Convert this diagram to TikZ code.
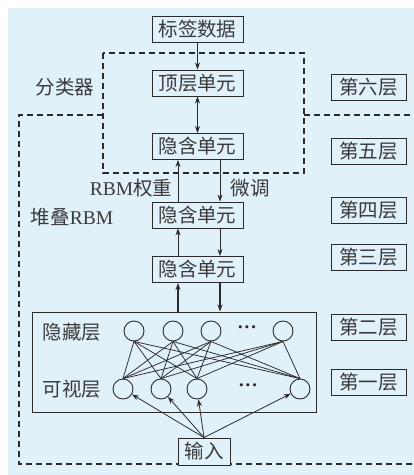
\documentclass[tikz,border=0pt]{standalone}
\usepackage{fontspec}
\setmainfont{Liberation Serif}
\newfontfamily\cjk{Noto Sans CJK SC}
\usetikzlibrary{arrows.meta}
\definecolor{bg}{HTML}{E0F1FA}
\definecolor{ln}{HTML}{2A2A2A}
\definecolor{tx}{HTML}{3A3A3A}
\begin{document}
\begin{tikzpicture}[x=1pt,y=-1pt,
  font=\cjk\fontsize{19.5}{22}\selectfont,
  box/.style={draw=ln, line width=0.9pt, fill=bg, inner sep=0pt, minimum width=91pt, minimum height=26pt, text=tx},
  lab/.style={box, minimum width=75pt, minimum height=26pt},
  neuron/.style={circle, draw=ln, line width=0.9pt, minimum size=20pt, inner sep=0pt},
  arr/.style={-{Stealth[length=7pt,width=5pt]}, line width=0.9pt, draw=ln},
  tarr/.style={arr, line width=1.6pt},
  dsh/.style={draw=ln, line width=1.3pt, dash pattern=on 6pt off 4pt},
  conn/.style={draw=ln, line width=0.75pt},
  txt/.style={text=tx, inner sep=0pt},
  dots/.style={text=ln, inner sep=0pt, font=\fontsize{20}{22}\selectfont\boldmath}]
\useasboundingbox (0,0) rectangle (414,475);
\fill[bg] (8,8) rectangle (414,475);
% dashed boxes
\draw[dsh] (103,53) rectangle (304,173);
\draw[dsh] (103,115) -- (19,115) -- (19,464) -- (414,464);
\draw[dsh] (304,115) -- (414,115);
% RBM box
\node[draw=ln, line width=0.9pt, minimum width=284pt, minimum height=100pt, inner sep=0pt] (rbm) at (174,362) {};
% main column
\node[box] (lbl) at (197.5,29) {标签数据};
\node[box] (top) at (197.5,83) {顶层单元};
\node[box] (h5) at (197.5,146.5) {隐含单元};
\node[box] (h4) at (197.5,215) {隐含单元};
\node[box] (h3) at (197.5,269.5) {隐含单元};
\node[box, minimum width=52pt, minimum height=27pt] (in) at (204,451.5) {输入};
% layer labels
\node[lab] (l6) at (368.5,87.5) {第六层};
\node[lab] (l5) at (368.5,151.5) {第五层};
\node[lab] (l4) at (368.5,210.5) {第四层};
\node[lab] (l3) at (368.5,257.5) {第三层};
\node[lab] (l2) at (368.5,327.5) {第二层};
\node[lab] (l1) at (368.5,382) {第一层};
% side texts
\node[txt] (cls) at (65,87) {分类器};
\node[txt] (stk) at (72,217) {堆叠{\rmfamily RBM}};
\node[txt] (wt) at (131,188) {{\rmfamily RBM}权重};
\node[txt] (ft) at (250,188) {微调};
\node[txt] (hid) at (72,332) {隐藏层};
\node[txt] (vis) at (72,389) {可视层};
% neurons
\node[neuron] (a1) at (134,331) {};
\node[neuron] (a2) at (173,331) {};
\node[neuron] (a3) at (211,331) {};
\node[dots] (ad) at (247,328) {${\cdot}{\cdot}{\cdot}$};
\node[neuron] (a4) at (283,331) {};
\node[neuron] (b1) at (123,389) {};
\node[neuron] (b2) at (161,389) {};
\node[neuron] (b3) at (197,389) {};
\node[dots] (bd) at (248,386) {${\cdot}{\cdot}{\cdot}$};
\node[neuron] (b4) at (300,389) {};
\foreach \i in {1,...,4}{\foreach \j in {1,...,4}{\draw[conn] (a\i.south) -- (b\j.north);}}
% arrows
\draw[arr] (lbl) -- (top);
\draw[arr, {Stealth[length=7pt,width=5pt]}-{Stealth[length=7pt,width=5pt]}] (top) -- (h5);
\draw[arr] ([xshift=-19.5pt]h4.north) -- ([xshift=-19.5pt]h5.south);
\draw[arr] ([xshift=22.5pt]h5.south) -- ([xshift=22.5pt]h4.north);
\draw[arr] ([xshift=-19.5pt]h3.north) -- ([xshift=-19.5pt]h4.south);
\draw[arr] ([xshift=22.5pt]h4.south) -- ([xshift=22.5pt]h3.north);
\draw[tarr] ([xshift=-19.5pt]h3.south |- rbm.north) -- ([xshift=-19.5pt]h3.south);
\draw[tarr] ([xshift=22.5pt]h3.south) -- ([xshift=22.5pt]h3.south |- rbm.north);
\foreach \j in {1,...,4}{\draw[arr, line width=0.8pt] (in.north) -- (b\j);}
\end{tikzpicture}
\end{document}
